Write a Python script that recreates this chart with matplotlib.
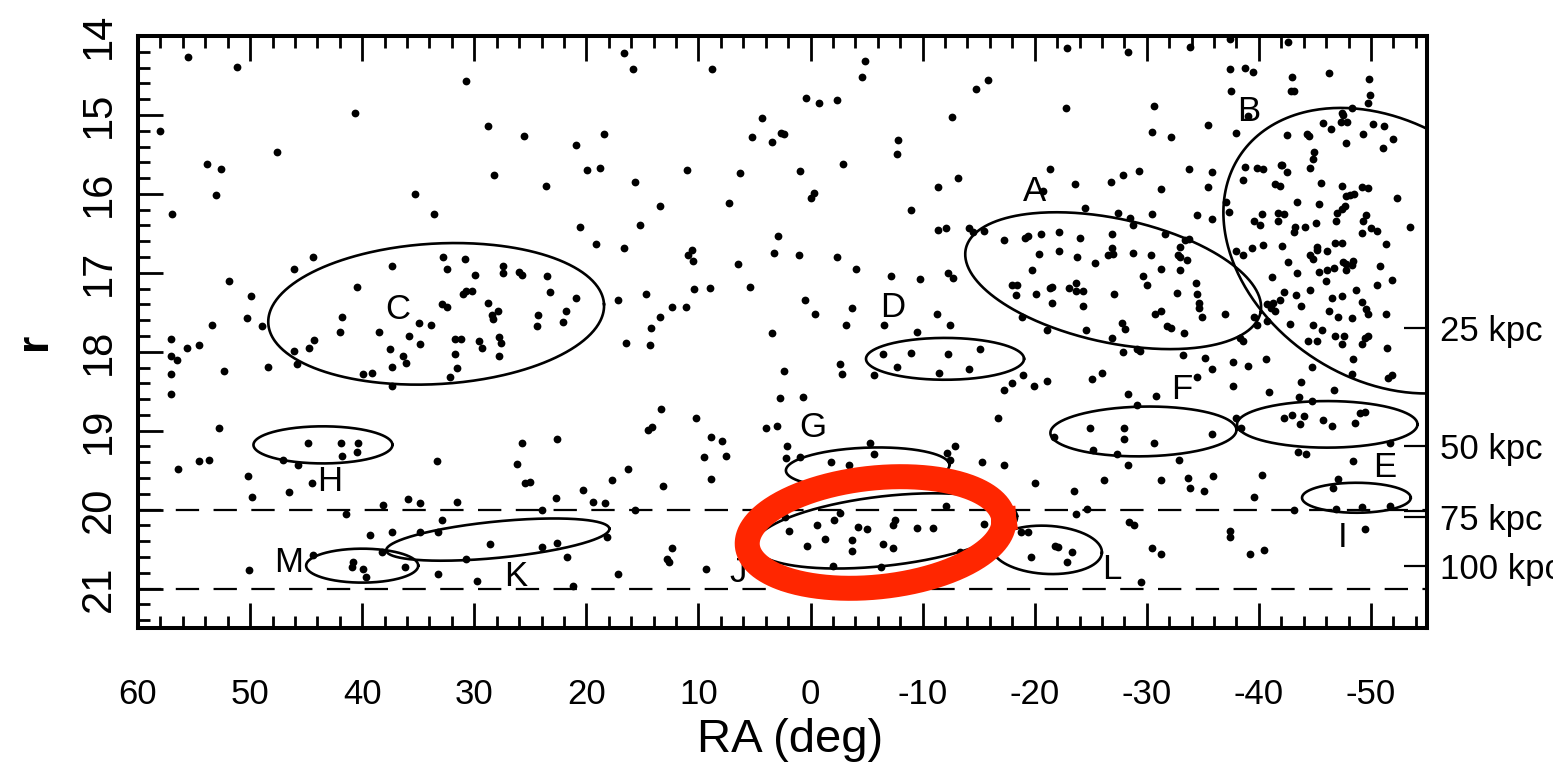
import numpy as np
import matplotlib
matplotlib.use("Agg")
import matplotlib.pyplot as plt

plt.rcParams['font.family'] = ['Liberation Sans', 'DejaVu Sans']
plt.rcParams['axes.unicode_minus'] = False

# star positions (RA deg, r mag), grouped by part of the field
stars_top_left = [(55.5, 14.27), (51.2, 14.39), (30.7, 14.57), (40.6, 14.97), (58.0, 15.20), (28.8, 15.14),
                  (47.6, 15.47), (53.8, 15.62), (52.6, 15.68), (53.0, 16.01), (28.2, 15.76), (35.3, 16.00),
                  (57.0, 16.25), (33.6, 16.25), (51.9, 17.10), (49.9, 17.29)]

stars_c = [(44.4, 16.80), (46.1, 16.95), (37.3, 16.92), (32.8, 16.80), (30.8, 16.82), (19.1, 16.63), (32.4, 16.95),
           (29.9, 17.03), (27.4, 16.92), (27.4, 17.00), (26.0, 16.99), (25.7, 17.03), (23.5, 17.04), (40.5, 17.18),
           (31.0, 17.27), (30.7, 17.23), (30.2, 17.23), (23.2, 17.24), (20.9, 17.32), (17.2, 17.35), (32.9, 17.40),
           (32.4, 17.43), (28.8, 17.38), (27.9, 17.49), (28.4, 17.54), (28.3, 17.59), (21.8, 17.48), (24.3, 17.54),
           (24.4, 17.67), (22.1, 17.62), (41.8, 17.56), (48.9, 17.67), (34.9, 17.63), (33.9, 17.66), (42.0, 17.75),
           (38.5, 17.75), (35.8, 17.80), (44.3, 17.85), (44.7, 17.95), (46.1, 17.99), (31.7, 17.84), (31.2, 17.84),
           (29.6, 17.87), (29.3, 17.95), (27.8, 17.81), (27.6, 17.89), (34.8, 17.90), (37.5, 17.96), (36.4, 18.05),
           (36.1, 18.14), (31.7, 18.03), (27.8, 18.05), (48.4, 18.19), (45.8, 18.16), (37.3, 18.19), (39.9, 18.28),
           (39.1, 18.27), (31.5, 18.20), (32.2, 18.32), (37.3, 18.44)]

stars_top_mid = [(16.6, 14.22), (15.8, 14.42), (8.8, 14.42), (-4.9, 14.32), (-4.6, 14.52), (-15.8, 14.56),
                 (-14.8, 14.67), (0.4, 14.78), (-0.8, 14.85), (-2.4, 14.81), (4.3, 15.04), (-12.6, 15.03),
                 (25.6, 15.27), (20.9, 15.38), (18.4, 15.24), (5.2, 15.28), (3.4, 15.34), (2.6, 15.23), (2.4, 15.24),
                 (-7.8, 15.32), (-7.7, 15.49), (19.9, 15.70), (18.8, 15.67), (11.0, 15.70), (6.3, 15.73),
                 (0.9, 15.71), (-2.9, 15.62), (23.6, 15.90), (15.7, 15.85), (-11.4, 15.91), (13.4, 16.15),
                 (7.3, 16.11), (-0.3, 15.99), (0.0, 16.05), (-9.0, 16.20), (20.6, 16.42), (15.2, 16.39),
                 (-11.4, 16.46), (-12.1, 16.43), (2.9, 16.54), (16.6, 16.68), (10.6, 16.71), (10.9, 16.77),
                 (10.5, 16.85), (6.5, 16.89), (3.3, 16.75), (1.0, 16.78), (-2.4, 16.80), (-4.1, 16.95), (-7.2, 17.04),
                 (-9.8, 17.08), (-12.3, 17.00), (14.7, 17.27), (10.4, 17.20), (9.0, 17.19), (5.4, 17.18), (0.5, 17.34)]

stars_top_right = [(-22.9, 14.15), (-28.3, 14.20), (-33.9, 14.14), (-37.4, 14.04), (-42.6, 14.08), (-22.8, 14.91),
                   (-30.6, 14.89), (-30.5, 15.22), (-32.2, 15.28), (-21.4, 15.68), (-33.8, 15.68)]

stars_b_upper = [(-37.4, 14.42), (-38.8, 14.40), (-39.5, 14.46), (-43.0, 14.52), (-46.3, 14.47), (-49.8, 14.54),
                 (-37.5, 14.70), (-42.9, 14.70), (-43.1, 14.70), (-49.9, 14.75), (-49.7, 14.85), (-39.0, 15.01),
                 (-35.5, 15.13), (-38.0, 15.23), (-48.3, 14.91), (-47.4, 14.97), (-47.5, 15.00), (-47.3, 15.09),
                 (-47.9, 15.09), (-45.7, 15.10), (-46.4, 15.18), (-42.5, 15.25), (-44.3, 15.24), (-44.5, 15.27),
                 (-47.8, 15.35), (-49.3, 15.24), (-50.2, 15.11), (-51.2, 15.14), (-52.0, 15.30), (-51.1, 15.42),
                 (-44.9, 15.47), (-44.8, 15.56), (-44.6, 15.67), (-42.0, 15.63), (-42.1, 15.64), (-38.8, 15.66),
                 (-39.8, 15.67), (-40.4, 15.68), (-42.5, 15.72), (-35.8, 15.72), (-35.5, 15.91), (-38.6, 15.82),
                 (-41.4, 15.87), (-41.9, 15.90), (-45.5, 15.86), (-47.4, 15.90), (-49.2, 15.91), (-49.7, 15.92),
                 (-47.8, 16.03), (-48.1, 16.01), (-48.5, 16.00), (-52.3, 16.05), (-43.4, 16.10), (-45.4, 16.13),
                 (-47.7, 16.16), (-47.4, 16.19), (-47.0, 16.24), (-37.1, 16.10), (-37.3, 16.23), (-40.3, 16.25),
                 (-41.7, 16.24), (-42.2, 16.25), (-35.8, 16.32), (-39.6, 16.34), (-41.7, 16.34), (-49.6, 16.27),
                 (-46.9, 16.34), (-49.3, 16.34)]

stars_b_lower = [(-40.1, 16.39), (-43.2, 16.42), (-43.1, 16.48), (-44.1, 16.42), (-45.1, 16.37), (-49.2, 16.49),
                 (-50.0, 16.43), (-50.5, 16.47), (-53.5, 16.42), (-46.8, 16.62), (-47.4, 16.62), (-45.2, 16.67),
                 (-45.2, 16.71), (-44.6, 16.77), (-44.8, 16.82), (-46.1, 16.73), (-42.1, 16.66), (-40.4, 16.65),
                 (-39.4, 16.68), (-38.0, 16.73), (-38.6, 16.77), (-42.6, 16.86), (-43.4, 17.00), (-41.2, 17.05),
                 (-45.4, 16.99), (-46.1, 16.97), (-46.7, 16.94), (-47.5, 16.86), (-47.8, 16.89), (-48.4, 16.85),
                 (-48.3, 16.90), (-47.8, 16.96), (-50.8, 16.92), (-51.9, 17.09), (-51.3, 16.63), (-46.0, 17.11),
                 (-50.5, 17.16), (-48.7, 17.22), (-44.6, 17.22), (-42.2, 17.24), (-43.3, 17.28), (-46.5, 17.32),
                 (-47.4, 17.30), (-49.2, 17.37), (-49.6, 17.46), (-49.7, 17.52), (-51.3, 17.52), (-46.3, 17.49),
                 (-47.1, 17.56), (-48.3, 17.57), (-43.8, 17.42), (-41.9, 17.35), (-41.3, 17.38), (-40.7, 17.40),
                 (-41.1, 17.44), (-41.4, 17.49), (-39.6, 17.56), (-39.8, 17.66), (-40.7, 17.61), (-42.8, 17.65),
                 (-44.8, 17.66), (-45.6, 17.73), (-46.8, 17.80), (-47.6, 17.80), (-47.4, 17.90), (-49.2, 17.90),
                 (-49.5, 17.82), (-49.7, 17.80), (-51.4, 17.95), (-44.4, 17.87), (-45.2, 17.86), (-38.3, 17.82),
                 (-38.6, 17.86), (-37.7, 18.13), (-39.0, 18.18), (-40.6, 18.09), (-44.7, 18.19), (-48.4, 18.09),
                 (-48.3, 18.28), (-43.8, 18.38), (-46.7, 18.49), (-40.9, 18.51), (-43.6, 18.57), (-51.9, 18.29),
                 (-51.5, 18.33), (-37.0, 17.52), (-34.9, 17.56), (-34.7, 17.38), (-34.7, 17.44), (-35.2, 18.08),
                 (-35.8, 18.22), (-37.7, 18.44)]

stars_a = [(-13.2, 15.80), (-23.6, 15.87), (-26.8, 15.85), (-27.9, 15.76), (-29.3, 15.71), (-31.3, 15.94),
           (-20.7, 15.97), (-24.5, 16.18), (-27.4, 16.24), (-28.5, 16.30), (-28.8, 16.39), (-30.5, 16.25),
           (-34.5, 16.27), (-14.1, 16.43), (-14.5, 16.48), (-15.5, 16.47), (-17.3, 16.58), (-19.1, 16.56),
           (-19.4, 16.54), (-20.6, 16.51), (-22.2, 16.48), (-24.0, 16.56), (-26.9, 16.51), (-26.9, 16.68),
           (-26.5, 16.77), (-27.0, 16.76), (-28.8, 16.75), (-30.4, 16.78), (-31.6, 16.51), (-33.4, 16.58),
           (-33.8, 16.57), (-33.0, 16.67), (-32.8, 16.77), (-33.0, 16.80), (-33.6, 16.84), (-20.4, 16.76),
           (-22.2, 16.73), (-23.8, 16.80), (-25.4, 16.87), (-19.8, 16.96), (-12.7, 17.06), (-29.7, 17.04),
           (-31.3, 16.95), (-33.0, 16.97), (-30.0, 17.16), (-18.0, 17.16), (-18.4, 17.16), (-21.4, 17.19),
           (-21.5, 17.18), (-18.3, 17.28), (-20.1, 17.27), (-23.1, 17.19), (-23.7, 17.13), (-23.7, 17.23),
           (-24.3, 17.23), (-27.1, 17.27), (-21.5, 17.38), (-24.3, 17.42), (-32.7, 17.25), (-34.4, 17.13),
           (-34.5, 17.27), (-18.9, 17.56), (-30.7, 17.52), (-31.3, 17.49), (-27.8, 17.63), (-28.1, 17.71),
           (-31.8, 17.67), (-32.2, 17.70), (-33.3, 17.76), (-21.1, 17.72), (-24.6, 17.73), (-26.9, 17.82),
           (-12.4, 17.66), (-15.1, 17.96), (-27.9, 18.00), (-29.1, 17.97), (-29.4, 17.99), (-33.2, 18.04)]

stars_low_left = [(50.3, 17.57), (53.4, 17.66), (57.1, 17.84), (57.1, 18.05), (56.5, 18.11), (55.6, 17.95),
                  (54.6, 17.91), (57.1, 18.28), (57.1, 18.53), (52.3, 18.25), (52.8, 18.97), (56.4, 19.49),
                  (54.6, 19.38), (53.7, 19.37), (50.2, 19.57), (49.8, 19.84), (46.5, 19.78), (44.5, 19.66),
                  (47.1, 19.37), (45.7, 19.44), (44.8, 19.15), (41.9, 19.15), (40.4, 19.16), (40.5, 19.27),
                  (41.8, 19.32), (33.3, 19.39), (41.4, 20.06), (38.1, 19.94), (35.9, 19.86), (34.8, 19.92),
                  (31.5, 19.91), (32.9, 20.13), (39.3, 20.32), (37.3, 20.28), (34.8, 20.29), (33.2, 20.29),
                  (28.6, 20.44), (30.7, 20.62), (44.4, 20.58), (40.8, 20.66), (40.9, 20.73), (39.9, 20.75),
                  (39.7, 20.86), (36.2, 20.73), (38.2, 20.54), (50.1, 20.77), (33.2, 20.82), (29.8, 20.90)]

stars_low_mid = [(-3.2, 17.66), (-9.5, 17.75), (-11.3, 17.52), (-0.4, 17.52), (-3.7, 17.44), (3.4, 17.76),
                 (16.5, 17.89), (14.3, 17.92), (12.4, 17.43), (11.1, 17.43), (13.4, 17.56), (14.2, 17.70),
                 (-2.6, 18.15), (-2.8, 18.28), (2.4, 18.25), (-6.5, 18.03), (-9.0, 18.01), (-12.3, 18.03),
                 (-7.7, 18.19), (-11.5, 18.27), (-14.1, 18.22), (-5.7, 18.30), (2.7, 18.59), (0.7, 18.57),
                 (13.3, 18.72), (10.2, 18.84), (14.5, 18.99), (14.1, 18.95), (4.0, 18.96), (3.0, 18.94),
                 (-16.7, 18.84), (22.6, 19.10), (25.7, 19.16), (8.9, 19.08), (7.9, 19.13), (9.5, 19.33), (7.5, 19.32),
                 (8.9, 19.61), (13.2, 19.70), (26.2, 19.42), (25.5, 19.66), (25.0, 19.65), (16.3, 19.48),
                 (17.7, 19.63), (22.7, 19.85), (20.3, 19.75), (19.4, 19.91), (18.3, 19.92), (24.0, 20.01),
                 (15.7, 20.00), (2.1, 19.19), (2.2, 19.34), (0.9, 19.33), (-5.3, 19.15), (-5.7, 19.29),
                 (-1.8, 19.40), (-3.4, 19.43), (-12.9, 19.19), (-12.2, 19.28), (-12.4, 19.37), (-15.3, 19.40),
                 (2.3, 20.10), (1.9, 20.27), (-0.6, 20.19), (-2.1, 20.13), (-2.6, 20.04), (-4.2, 20.22),
                 (-5.0, 20.25), (-7.5, 20.13), (-7.4, 20.20), (-9.5, 20.23), (-10.9, 20.23), (-15.5, 20.18),
                 (-12.1, 19.95), (-1.3, 20.37), (-3.7, 20.39), (-3.7, 20.52), (0.3, 20.46), (-6.5, 20.43),
                 (-7.4, 20.49), (-13.3, 20.54), (-2.0, 20.72), (-6.3, 20.73), (4.7, 20.29), (12.4, 20.49),
                 (12.8, 20.62), (12.6, 20.67), (9.3, 20.75), (17.2, 20.82), (21.2, 20.97), (24.0, 20.47),
                 (22.6, 20.42), (21.7, 20.60), (18.2, 20.35), (-6.6, 17.66)]

stars_low_right = [(-34.5, 18.32), (-25.1, 18.34), (-26.0, 18.27), (-19.9, 18.44), (-21.1, 18.37), (-19.0, 18.30),
                   (-18.0, 18.39), (-17.3, 18.48), (-28.3, 18.53), (-30.8, 18.56), (-29.1, 18.67), (-38.0, 18.84),
                   (-38.4, 18.96), (-42.2, 18.84), (-43.0, 18.80), (-44.0, 18.81), (-43.7, 18.91), (-45.7, 18.87),
                   (-46.5, 18.94), (-48.6, 18.90), (-49.0, 18.77), (-49.5, 18.76), (-44.7, 18.63), (-24.9, 18.96),
                   (-28.0, 18.97), (-28.0, 19.11), (-30.6, 19.16), (-35.8, 19.04), (-21.7, 19.08), (-25.2, 19.24),
                   (-27.3, 19.29), (-32.9, 19.37), (-28.3, 19.43), (-51.7, 19.16), (-43.5, 19.27), (-44.2, 19.29),
                   (-48.4, 19.39), (-47.1, 19.61), (-17.3, 19.43), (-20.0, 19.66), (-23.5, 19.77), (-26.2, 19.62),
                   (-31.3, 19.63), (-33.7, 19.60), (-33.9, 19.73), (-35.1, 19.77), (-35.9, 19.58), (-40.3, 19.56),
                   (-39.6, 19.84), (-46.6, 19.73), (-46.9, 19.99), (-49.2, 19.97), (-51.7, 19.95), (-43.1, 20.01),
                   (-24.7, 19.99), (-23.7, 20.05), (-28.4, 20.16), (-28.9, 20.20), (-37.4, 20.27), (-37.4, 20.35),
                   (-49.5, 20.24), (-18.8, 20.29), (-19.4, 20.28), (-21.8, 20.46), (-22.1, 20.48), (-19.7, 20.60),
                   (-22.9, 20.66), (-23.3, 20.54), (-30.5, 20.49), (-31.3, 20.56), (-39.2, 20.56), (-40.5, 20.51),
                   (-29.5, 20.92)]

# overdensity outlines: centre, width (deg of RA), height (mag), tilt on screen
ell_ra = [-27.0, -51.1, 33.4, -12.0, -46.1, -29.7, -5.1, 43.5, -48.7, -6.7, 27.9, -21.1, 40.0]
ell_r = [17.10, 16.72, 17.52, 18.09, 18.92, 19.01, 19.47, 19.18, 19.85, 20.27, 20.38, 20.51, 20.71]
ell_w = [26.9, 30.7, 30.0, 14.1, 16.1, 16.6, 14.6, 12.4, 9.7, 23.6, 20.0, 9.8, 10.0]
ell_h = [1.57, 3.24, 1.78, 0.53, 0.59, 0.63, 0.51, 0.47, 0.38, 0.88, 0.46, 0.61, 0.43]
ell_ang = [-12.2, -33.5, 3.3, 0, 0, 1, 2, 0, 0, 6.5, 5.6, -3, 0]

lab_text = ['A', 'B', 'C', 'D', 'E', 'F', 'G', 'H', 'I', 'J', 'K', 'L', 'M']
lab_ra = [-20.0, -39.1, 36.8, -7.3, -51.2, -33.1, -0.2, 42.9, -47.5, 6.5, 26.3, -26.9, 46.6]
lab_r = [15.97, 14.96, 17.47, 17.44, 19.47, 18.48, 18.96, 19.65, 20.35, 20.80, 20.85, 20.76, 20.67]

# hand-drawn highlight around J
loop_ra, loop_r, loop_w, loop_h, loop_ang = -5.8, 20.29, 23.0, 1.38, 6.0

dash_r = [20.0, 21.0]
kpc_r = [17.70, 19.20, 20.02, 20.09, 20.71]
kpc_labels = ['25 kpc', '50 kpc', '', '75 kpc', '100 kpc']

ra_ticks = list(range(60, -51, -10))


def outline(ax, ra0, r0, w, h, ang, **kw):
    # ellipse that is a true ellipse on screen
    tr = ax.transData
    p0 = tr.transform((ra0, r0))
    sx = abs(tr.transform((ra0 + 1, r0))[0] - p0[0])
    sy = abs(tr.transform((ra0, r0 + 1))[1] - p0[1])
    t = np.linspace(0, 2 * np.pi, 400)
    a, b = w / 2 * sx, h / 2 * sy
    th = np.radians(ang)
    dx = a * np.cos(t) * np.cos(th) - b * np.sin(t) * np.sin(th)
    dy = a * np.cos(t) * np.sin(th) + b * np.sin(t) * np.cos(th)
    pts = tr.inverted().transform(np.column_stack([p0[0] + dx, p0[1] + dy]))
    ax.plot(pts[:, 0], pts[:, 1], **kw)


fig = plt.figure(figsize=(15.53, 7.73), dpi=100)
ax = fig.add_axes([138 / 1553, 145 / 773, 1289 / 1553, 592 / 773])
ax.set_xlim(60, -55)
ax.set_ylim(21.5, 14)

stars = np.array(stars_top_left + stars_c + stars_top_mid + stars_top_right + stars_b_upper + stars_b_lower
                 + stars_a + stars_low_left + stars_low_mid + stars_low_right)
ax.plot(stars[:, 0], stars[:, 1], 'o', color='black', ms=5.6, mew=0, linestyle='none')

for i in range(len(ell_ra)):
    outline(ax, ell_ra[i], ell_r[i], ell_w[i], ell_h[i], ell_ang[i], color='black', lw=1.9)

for i in range(len(lab_text)):
    ax.text(lab_ra[i], lab_r[i], lab_text[i], fontsize=25, ha='center', va='center')

for y in dash_r:
    ax.axhline(y, color='black', lw=1.6, dashes=(10.5, 6.5))

outline(ax, loop_ra, loop_r, loop_w, loop_h, loop_ang, color='#ff2600', lw=18, zorder=10)

# axes and ticks
ax.set_xticks(ra_ticks)
ax.set_xticklabels([str(v) for v in ra_ticks])
ax.set_xticks(np.arange(60, -55.5, -2), minor=True)
ax.set_yticks(range(14, 22))
ax.set_yticks(np.arange(14, 21.55, 0.2), minor=True)
ax.tick_params(which='both', direction='in', top=True, right=False, width=2)
ax.tick_params(which='major', length=18)
ax.tick_params(which='minor', length=8.6)
ax.tick_params(axis='x', labelsize=25, pad=36)
ax.tick_params(axis='y', labelsize=30, pad=14, labelrotation=90)
for lab in ax.get_yticklabels():
    lab.set_va('center')
for s in ax.spines.values():
    s.set_linewidth(2.9)

ax.set_xlabel('RA (deg)', fontsize=34)
ax.xaxis.set_label_coords(0.506, -0.19)
ax.xaxis.label.set_va('center')
ax.set_ylabel('r', fontsize=32, fontweight='bold')
ax.yaxis.set_label_coords(-0.080, 0.485)
ax.yaxis.label.set_va('center')

ax2 = ax.twinx()
ax2.set_ylim(21.5, 14)
ax2.set_yticks(kpc_r)
ax2.set_yticklabels(kpc_labels)
ax2.tick_params(axis='y', direction='in', length=16.5, width=1.6, pad=9, labelsize=25)
for s in ax2.spines.values():
    s.set_visible(False)

fig.savefig('out.png', dpi=100)
